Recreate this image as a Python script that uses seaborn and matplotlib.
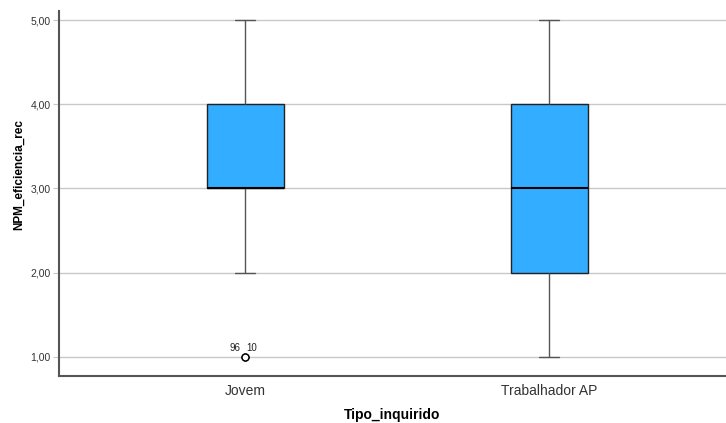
import numpy as np
import pandas as pd
import matplotlib
matplotlib.use("Agg")
import matplotlib.pyplot as plt
import seaborn as sns

# ---- data (response counts per score, read/estimated from the box statistics) ----
categories = ["Jovem", "Trabalhador AP"]
scores = [1, 2, 3, 4, 5]
counts_jovem = [2, 3, 20, 15, 5]
counts_trab = [3, 8, 10, 9, 3]
outlier_labels = ["96", "10"]
outlier_value = 1
y_ticks = [1, 2, 3, 4, 5]
y_ticklabels = ["1,00", "2,00", "3,00", "4,00", "5,00"]

rows = []
for cat, cnts in zip(categories, [counts_jovem, counts_trab]):
    for s, c in zip(scores, cnts):
        rows += [(cat, s)] * c
df = pd.DataFrame(rows, columns=["Tipo_inquirido", "NPM_eficiencia_rec"])

sns.set_style("white")
plt.rcParams["font.family"] = ["Liberation Sans", "DejaVu Sans"]

fig = plt.figure(figsize=(7.26, 4.23), dpi=100)
ax = fig.add_axes([59 / 726, 47 / 423, 667 / 726, 365 / 423])

ax.grid(axis="y", color="#c8c8c8", linewidth=1.0, zorder=0)
ax.set_axisbelow(True)

sns.boxplot(
    data=df, x="Tipo_inquirido", y="NPM_eficiencia_rec", order=categories,
    width=0.253, color="#33adff", saturation=1, whis=1.5, ax=ax,
    boxprops=dict(edgecolor="#222222", linewidth=1.0),
    medianprops=dict(color="black", linewidth=1.5),
    whiskerprops=dict(color="#555555", linewidth=1.0),
    capprops=dict(color="#555555", linewidth=1.0),
    flierprops=dict(marker="o", markersize=5, markerfacecolor="white",
                    markeredgecolor="black", markeredgewidth=1.0),
)
# shorten caps to half the box width
for line in ax.lines:
    xd = line.get_xdata()
    if len(xd) == 2 and np.allclose(line.get_ydata()[0], line.get_ydata()[1]) \
            and line.get_color() == "#555555":
        c = (xd[0] + xd[1]) / 2
        h = (xd[1] - xd[0]) / 4
        line.set_xdata([c - h, c + h])

ax.annotate(outlier_labels[0], (0, outlier_value), xytext=(-3, 3), textcoords="offset points",
            ha="right", va="bottom", fontsize=7, color="#222222")
ax.annotate(outlier_labels[1], (0, outlier_value), xytext=(1, 3), textcoords="offset points",
            ha="left", va="bottom", fontsize=7, color="#222222")

ax.set_xlim(-0.612, 1.582)
ax.set_ylim(0.774, 5.107)
ax.set_yticks(y_ticks)
ax.set_yticklabels(y_ticklabels)
ax.tick_params(axis="y", labelsize=7.5, labelcolor="#333333", length=4, width=0.8,
               color="#c8c8c8", pad=2, left=True)
ax.tick_params(axis="x", labelsize=10, labelcolor="#333333", length=0, pad=6)

for s in ["top", "right"]:
    ax.spines[s].set_visible(False)
for s in ["left", "bottom"]:
    ax.spines[s].set_color("#555555")
    ax.spines[s].set_linewidth(1.5)

ax.set_xlabel("Tipo_inquirido", fontsize=10, fontweight="bold", color="black")
ax.xaxis.set_label_coords(0.5, -0.088)
ax.set_ylabel("NPM_eficiencia_rec", fontsize=8.5, fontweight="bold", color="black")
ax.yaxis.set_label_coords(-0.051, 0.551)

fig.savefig("out.png", dpi=100)
